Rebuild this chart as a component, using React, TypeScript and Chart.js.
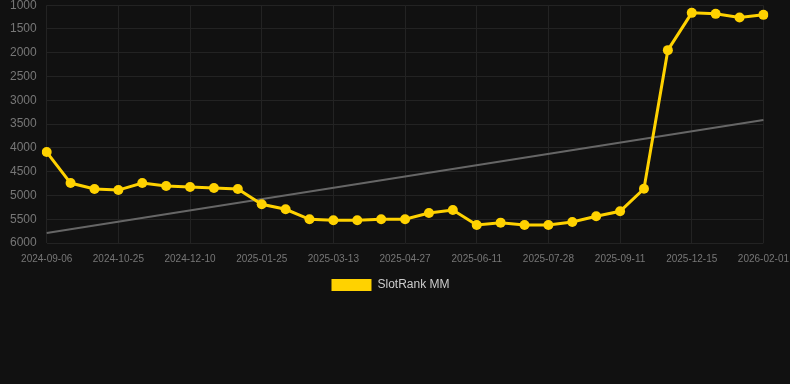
import React, { useEffect, useRef } from "react";
import { Chart, registerables } from "chart.js";

Chart.register(...registerables);

const labels = [
  "2024-09-06", "2024-09-22", "2024-10-08", "2024-10-25", "2024-11-09", "2024-11-24",
  "2024-12-10", "2024-12-25", "2025-01-09", "2025-01-25", "2025-02-09", "2025-02-25",
  "2025-03-13", "2025-03-28", "2025-04-12", "2025-04-27", "2025-05-12", "2025-05-27",
  "2025-06-11", "2025-06-26", "2025-07-12", "2025-07-28", "2025-08-12", "2025-08-27",
  "2025-09-11", "2025-10-12", "2025-11-13", "2025-12-15", "2025-12-30", "2026-01-16",
  "2026-02-01",
];

const rankValues = [
  4088, 4740, 4866, 4887, 4740, 4803, 4824, 4845, 4866, 5186, 5291, 5501,
  5522, 5522, 5501, 5501, 5368, 5305, 5620, 5572, 5620, 5620, 5557, 5438,
  5333, 4859, 1945, 1161, 1182, 1259, 1203,
];

const trendStart = 5790;
const trendEnd = 3415;
const trendValues: (number | null)[] = labels.map((_, i) =>
  i === 0 ? trendStart : i === labels.length - 1 ? trendEnd : null
);

const FONT = "Arial, 'Liberation Sans', sans-serif";

const shiftLegend = {
  id: "shiftLegend",
  afterLayout(chart: any) {
    if (chart.legend) {
      chart.legend.left -= 12;
      chart.legend.right -= 12;
      chart.legend.top -= 6;
      chart.legend.bottom -= 6;
    }
  },
};

export default function App() {
  const ref = useRef<HTMLCanvasElement | null>(null);
  useEffect(() => {
    document.body.style.margin = "0";
    document.body.style.background = "#111111";
    const ctx = ref.current!;
    const chart = new Chart(ctx, {
      type: "line",
      data: {
        labels,
        datasets: [
          {
            label: "SlotRank MM",
            data: rankValues,
            borderColor: "#FFD200",
            backgroundColor: "#FFD200",
            borderWidth: 3,
            pointRadius: 5,
            pointHoverRadius: 5,
            pointBackgroundColor: "#FFD200",
            pointBorderWidth: 0,
            tension: 0,
          },
          {
            label: "trend",
            data: trendValues,
            borderColor: "#666666",
            backgroundColor: "#666666",
            borderWidth: 2,
            pointRadius: 0,
            spanGaps: true,
          },
        ],
      },
      plugins: [shiftLegend],
      options: {
        animation: false,
        responsive: false,
        maintainAspectRatio: false,
        layout: { padding: { left: 4, right: -6, top: 0, bottom: 0 } },
        plugins: {
          legend: {
            position: "bottom",
            labels: {
              color: "#cccccc",
              font: { family: FONT, size: 12 },
              boxWidth: 40,
              boxHeight: 12,
              generateLabels: () => [
                {
                  text: "SlotRank MM",
                  fillStyle: "#FFD200",
                  strokeStyle: "#FFD200",
                  lineWidth: 0,
                  hidden: false,
                  datasetIndex: 0,
                  fontColor: "#cccccc",
                },
              ],
            },
          },
          tooltip: { enabled: false },
        },
        scales: {
          x: {
            grid: { color: "#232323", drawTicks: false },
            border: { display: false },
            ticks: {
              color: "#777777",
              font: { family: FONT, size: 10 },
              maxRotation: 0,
              autoSkip: true,
              padding: 10,
            },
          },
          y: {
            reverse: true,
            min: 1000,
            max: 6000,
            grid: { color: "#232323", drawTicks: false },
            border: { display: false },
            ticks: {
              stepSize: 500,
              color: "#777777",
              font: { family: FONT, size: 12 },
              padding: 10,
              callback: (v: any) => String(v),
            },
          },
        },
      },
    });
    return () => chart.destroy();
  }, []);
  return (
    <div style={{ width: 790, height: 384, background: "#111111", overflow: "hidden" }}>
      <canvas
        ref={ref}
        width={803}
        height={319}
        style={{ display: "block", marginTop: -12, marginLeft: -4 }}
      />
    </div>
  );
}
